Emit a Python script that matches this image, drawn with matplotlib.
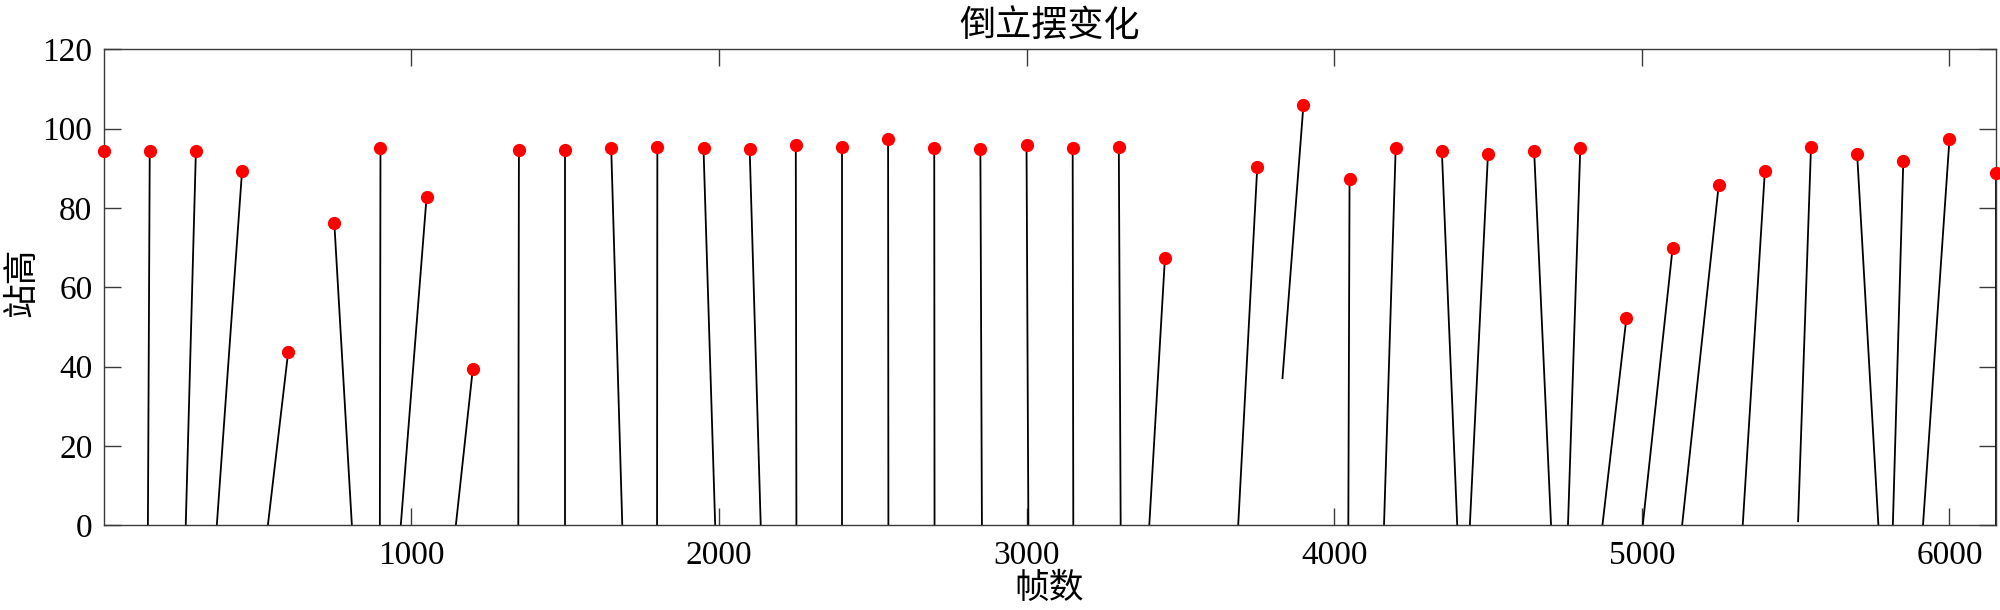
import matplotlib
matplotlib.use('Agg')
import matplotlib.pyplot as plt

# Pendulum tips (frame, height) and bases (frame, height)
tip_x = [0, 150, 300, 450, 600, 750, 900, 1050, 1200, 1350, 1500, 1650, 1800, 1950,
         2100, 2250, 2400, 2550, 2700, 2850, 3000, 3150, 3300, 3450, 3750, 3900,
         4050, 4200, 4350, 4500, 4650, 4800, 4950, 5100, 5250, 5400, 5550, 5700,
         5850, 6000, 6150]
tip_y = [94.4, 94.4, 94.4, 89.3, 43.7, 76.1, 95.1, 82.9, 39.3, 94.6, 94.7, 95.1, 95.4, 95.1,
         95.0, 96.0, 95.4, 97.3, 95.1, 94.8, 96.0, 95.1, 95.4, 67.5, 90.3, 105.9,
         87.3, 95.2, 94.5, 93.7, 94.4, 95.1, 52.3, 69.8, 85.8, 89.3, 95.5, 93.5,
         91.9, 97.3, 88.9]
base_x = [0, 144, 267, 368, 534, 807, 898, 966, 1145, 1348, 1500, 1686, 1799, 1988,
          2136, 2252, 2400, 2551, 2701, 2855, 3006, 3152, 3306, 3399, 3688, 3832,
          4046, 4162, 4400, 4441, 4705, 4760, 4872, 5003, 5131, 5328, 5508, 5769,
          5816, 5914, 6150]
base_y = [0] * 25 + [37.1] + [0] * 10 + [1.0] + [0] * 4

x_ticks = [1000, 2000, 3000, 4000, 5000, 6000]
y_ticks = [0, 20, 40, 60, 80, 100, 120]

cjk = ['Noto Sans CJK SC', 'DejaVu Sans']
num_font = 'Liberation Serif'
axis_color = '#3a3a3a'

fig = plt.figure(figsize=(20, 6.1), dpi=100)
ax = fig.add_axes([0.0518, 0.139, 0.946, 0.78])

# pendulum rods
for bx, by, tx, ty in zip(base_x, base_y, tip_x, tip_y):
    ax.plot([bx, tx], [by, ty], color='black', linewidth=1.3, zorder=2)

# pendulum heads
ax.plot(tip_x, tip_y, 'o', color='red', markersize=8.5, clip_on=False, zorder=3)

ax.set_xlim(0, 6150)
ax.set_ylim(0, 120)
ax.set_xticks(x_ticks)
ax.set_yticks(y_ticks)

ax.tick_params(direction='in', length=12, width=1, color=axis_color,
               top=True, right=True, labelsize=24)
ax.tick_params(axis='x', pad=11)
ax.tick_params(axis='y', pad=8)
for lbl in ax.get_xticklabels() + ax.get_yticklabels():
    lbl.set_fontfamily(num_font)
for sp in ax.spines.values():
    sp.set_color(axis_color)
    sp.set_linewidth(1)

ax.set_title('倒立摆变化', family=cjk, fontsize=26, pad=9)
ax.set_xlabel('帧数', family=cjk, fontsize=25, labelpad=0)
ax.set_ylabel('站高', family=cjk, fontsize=25)
ax.yaxis.set_label_coords(-0.034, 0.51)

fig.savefig('out.png', dpi=100)
